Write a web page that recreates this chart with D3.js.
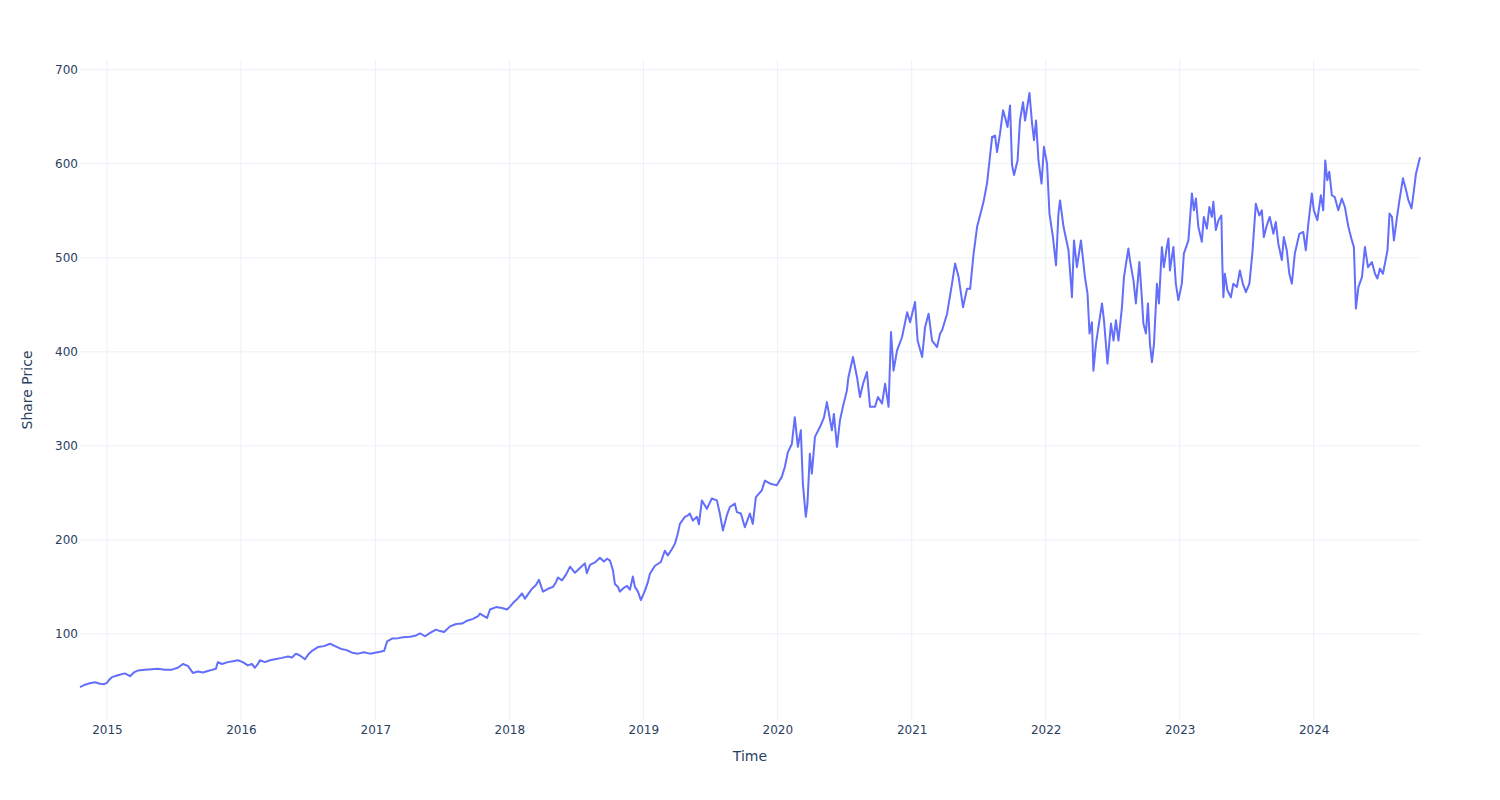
<!DOCTYPE html>
<html>
<head>
<meta charset="utf-8">
<script src="https://cdn.jsdelivr.net/npm/d3@7"></script>
<style>
  html, body { margin: 0; padding: 0; background: #fff; }
  svg { display: block; }
  text { font-family: "DejaVu Sans", verdana, arial, sans-serif; }
</style>
</head>
<body>
<svg id="chart" width="1500" height="800"></svg>
<script>
// ---- data (time as decimal years, price in currency units) ----
const years = [
2014.799,2014.836,2014.873,2014.911,2014.948,2014.978,2015.000,2015.015,2015.037,2015.082,
2015.134,2015.172,2015.201,2015.231,2015.283,2015.336,2015.380,2015.433,2015.485,2015.529,
2015.567,2015.604,2015.641,2015.679,2015.716,2015.753,2015.790,2015.813,2015.828,2015.858,
2015.902,2015.940,2015.977,2016.014,2016.051,2016.081,2016.104,2016.126,2016.141,2016.178,
2016.216,2016.253,2016.305,2016.350,2016.380,2016.409,2016.439,2016.476,2016.506,2016.529,
2016.573,2016.618,2016.663,2016.700,2016.745,2016.782,2016.827,
2016.872,2016.916,2016.961,2016.998,2017.036,2017.066,2017.088,2017.125,2017.170,2017.207,
2017.259,2017.297,2017.334,2017.371,2017.409,2017.453,2017.483,2017.513,2017.558,2017.603,
2017.647,2017.685,2017.729,2017.767,2017.781,2017.811,2017.834,2017.856,2017.901,2017.946,
2017.983,2018.005,2018.035,2018.065,2018.095,2018.117,2018.139,2018.169,2018.199,2018.221,
2018.251,2018.289,2018.326,2018.348,2018.363,2018.393,2018.423,2018.453,2018.490,2018.527,
2018.564,2018.579,2018.602,2018.639,2018.676,2018.706,2018.729,2018.751,2018.773,2018.788,
2018.811,2018.825,2018.855,2018.878,2018.900,2018.922,2018.937,2018.960,2018.982,2019.012,
2019.034,2019.049,2019.087,2019.131,
2019.161,2019.183,2019.213,2019.236,2019.258,2019.273,2019.310,2019.333,2019.347,2019.370,
2019.400,2019.415,2019.437,2019.474,2019.511,2019.549,2019.571,2019.594,2019.623,2019.646,
2019.683,2019.698,2019.728,2019.758,2019.795,2019.817,2019.840,2019.884,2019.907,2019.944,
2019.996,2020.033,2020.056,2020.078,2020.108,2020.130,2020.153,2020.175,2020.190,2020.212,
2020.224,2020.242,2020.257,2020.280,2020.317,2020.347,2020.369,2020.406,2020.421,2020.444,
2020.466,2020.488,2020.518,2020.529,2020.563,2020.593,2020.615,2020.638,2020.667,2020.690,
2020.727,2020.749,2020.779,2020.802,2020.828,2020.846,2020.865,2020.891,2020.928,2020.966,
2020.988,2021.025,2021.044,2021.078,2021.100,2021.126,2021.152,2021.189,2021.212,
2021.227,2021.264,2021.301,2021.324,2021.350,2021.383,2021.413,2021.436,2021.462,2021.488,
2021.510,2021.536,2021.562,2021.581,2021.600,2021.622,2021.637,2021.659,2021.682,2021.696,
2021.715,2021.734,2021.749,2021.764,2021.790,2021.808,2021.831,2021.846,2021.860,2021.879,
2021.898,2021.913,2021.928,2021.946,2021.969,2021.987,2022.010,2022.028,2022.054,2022.077,
2022.095,2022.107,2022.133,2022.170,2022.196,2022.211,2022.233,2022.263,2022.293,2022.312,
2022.327,2022.345,2022.356,2022.375,2022.401,2022.420,2022.435,2022.461,2022.487,2022.506,
2022.524,2022.543,2022.569,2022.584,2022.617,2022.629,2022.655,2022.673,2022.699,2022.718,
2022.729,2022.748,2022.763,2022.778,2022.793,2022.808,2022.830,2022.845,2022.867,2022.882,
2022.904,2022.916,2022.927,2022.953,2022.971,2022.990,2023.016,2023.031,2023.065,2023.091,
2023.106,2023.121,2023.139,2023.165,2023.180,2023.203,2023.221,2023.240,2023.251,2023.270,
2023.289,2023.311,2023.318,2023.326,2023.337,2023.356,2023.382,2023.400,2023.427,2023.449,
2023.471,2023.494,2023.520,2023.542,2023.568,2023.594,2023.613,2023.628,2023.650,2023.672,
2023.699,2023.717,2023.736,2023.762,2023.777,2023.799,2023.818,2023.837,2023.859,2023.893,
2023.922,2023.941,2023.960,2023.986,2024.001,2024.027,2024.053,2024.071,2024.086,2024.101,
2024.116,2024.135,2024.157,2024.183,2024.209,2024.232,2024.258,2024.284,2024.299,2024.314,
2024.333,2024.359,2024.381,2024.404,2024.433,2024.456,2024.474,2024.493,2024.515,2024.530,
2024.549,2024.564,2024.582,2024.597,2024.620,2024.638,2024.664,2024.687,2024.705,2024.728,
2024.746,2024.761,2024.791
];
const prices = [
43.5,46,47.5,48.5,47,46.5,48,51,54,56,
58,55,59,61,62,62.5,63,62,62,64,
68,66,58.5,60,59,60.5,62,63,70,68,
70,71,72,70,66.5,68,64,68,72,70,
72,73,74.5,76,75,79,77,73,79,82,
86,87,89.5,87,84,83,80,
79,80.5,79,80,81,82,92,95,95.5,96.5,
97,98,100.5,97.5,101,104.5,103,102,108,110.5,
111,114,116,119,121.5,119,117,126,128.5,127.5,
126,129,134,138,143,137.5,142,148,152,157.5,
145,148,150,155,160,157,163,171.5,165,170,
175,164.5,173.5,176,181,177,180,178,168,153,
150,145,149,151,147,161,150,145,136,146,
155,164,172.5,176.5,
188.5,183.5,190,196,207,217,224.5,226,228,220.5,
224.5,216.5,242,233,244,242,228,210,226,235,
238.5,229.5,228,213.5,228,217,245.5,252.5,263,260,
258,267,277.5,293,302,330.5,299,316.5,260,224.5,
238.5,291.5,270.5,309.5,320,330,346.5,316.5,334,299,
327,341.5,359,373,394.5,373,352,366,378.5,341.5,
341.5,352,345,366,341.5,421,380,401.5,415.5,442,
431.5,453,412,394.5,426.5,440.5,412,405,419.5,
423,440.5,472.5,494,479.5,447.5,467,467,504.5,533,
545,559.5,579,603.5,628.5,630,612.5,632,657,650,
639,662,598.5,588,603.5,646,665.5,646,658.5,675.3,
643,625,646,603.5,579,618,600,547,522,492,
547,561,533,508,458,518.5,490,518.5,479.5,462,
419.5,431.5,380,408.5,433.5,451.5,433.5,387.5,430,412,
433.5,412,447.5,479.5,510,497,476,451.5,495.5,456.5,
430,419.5,451.5,408.5,389,408.5,472.5,451.5,511.5,490,
511.5,520.5,486.5,511.5,472.5,455,472.5,504.5,518.5,568.5,
550.5,563,533,517,543.5,531,554,543.5,559.5,529.5,
540,545,494,458,483,465.5,458,472.5,469,486.5,
472.5,463.5,472.5,504.5,557.5,545,550.5,522,534.5,543.5,
525.5,538,515,497.5,522,508,483,472.5,504.5,525.5,
527.5,508,536.5,568.5,550.5,540,566.5,550.5,603.5,582.5,
591.5,566.5,564.5,550.5,563,554,533,518.5,511.5,446,
469,479.5,511.5,490,495.5,483,478,488.5,483,494,
508,547,543.5,518.5,543.5,561,584.5,572,561,552.5,
572,589.5,607
];
const yTicks = [100, 200, 300, 400, 500, 600, 700];
const xTitle = "Time";
const yTitle = "Share Price";

// ---- helpers ----
function yearToDate(y) {
  const yr = Math.floor(y);
  const start = Date.UTC(yr, 0, 1), end = Date.UTC(yr + 1, 0, 1);
  return new Date(start + (y - yr) * (end - start));
}
const data = years.map((y, i) => ({ date: yearToDate(y), value: prices[i] }));

// ---- layout ----
const W = 1500, H = 800;
const margin = { left: 80, right: 80, top: 60, bottom: 80 };
const plotW = W - margin.left - margin.right;
const plotH = H - margin.top - margin.bottom;
const FONT = '"DejaVu Sans", verdana, arial, sans-serif';

const svg = d3.select("#chart");
const g = svg.append("g").attr("transform", `translate(${margin.left},${margin.top})`);

const x = d3.scaleUtc()
  .domain(d3.extent(data, d => d.date))
  .range([0, plotW]);

const [vmin, vmax] = d3.extent(prices);
const pad = (vmax - vmin) * 0.0555;
const y = d3.scaleLinear()
  .domain([vmin - pad, vmax + pad])
  .range([plotH, 0]);

const gridColor = "#ebf0f8";
const textColor = "#2a3f5f";

// vertical grid
const xTicks = x.ticks(d3.utcYear.every(1));
g.append("g")
  .selectAll("line")
  .data(xTicks)
  .join("line")
  .attr("x1", d => x(d)).attr("x2", d => x(d))
  .attr("y1", 0).attr("y2", plotH)
  .attr("stroke", gridColor).attr("stroke-width", 1);

// horizontal grid
g.append("g")
  .selectAll("line")
  .data(yTicks)
  .join("line")
  .attr("x1", 0).attr("x2", plotW)
  .attr("y1", d => y(d)).attr("y2", d => y(d))
  .attr("stroke", gridColor).attr("stroke-width", 1);

// axes (labels only, plotly style)
const xAxis = d3.axisBottom(x)
  .ticks(d3.utcYear.every(1))
  .tickFormat(d3.utcFormat("%Y"))
  .tickSize(0).tickPadding(5);
const xa = g.append("g").attr("transform", `translate(0,${plotH})`).call(xAxis);
xa.select(".domain").remove();
xa.selectAll("text").attr("fill", textColor).style("font-size", "12px")
  .style("font-family", FONT);

const yAxis = d3.axisLeft(y).tickValues(yTicks).tickSize(0).tickPadding(2);
const ya = g.append("g").call(yAxis);
ya.select(".domain").remove();
ya.selectAll("text").attr("fill", textColor).style("font-size", "12px")
  .style("font-family", FONT);

// line
const line = d3.line()
  .x(d => x(d.date))
  .y(d => y(d.value));
g.append("path")
  .datum(data)
  .attr("fill", "none")
  .attr("stroke", "#636efa")
  .attr("stroke-width", 2)
  .attr("stroke-linejoin", "round")
  .attr("d", line);

// axis titles
svg.append("text")
  .attr("x", margin.left + plotW / 2)
  .attr("y", 761)
  .attr("text-anchor", "middle")
  .attr("fill", textColor)
  .style("font-size", "14px")
  .style("font-family", FONT)
  .text(xTitle);

svg.append("text")
  .attr("transform", `translate(32,${margin.top + plotH / 2}) rotate(-90)`)
  .attr("text-anchor", "middle")
  .attr("fill", textColor)
  .style("font-size", "14px")
  .style("font-family", FONT)
  .text(yTitle);
</script>
</body>
</html>
